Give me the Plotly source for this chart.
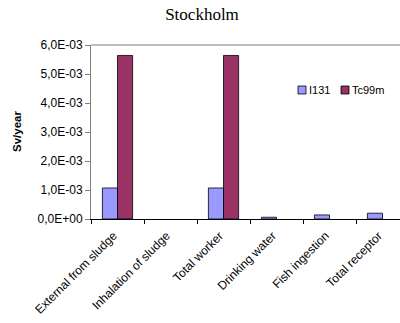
import plotly.graph_objects as go

# Dose per pathway (Sv/year)
categories = ["External from sludge", "Inhalation of sludge", "Total worker",
              "Drinking water", "Fish ingestion", "Total receptor"]
i131 = [1.07e-3, 0.0, 1.07e-3, 0.06e-3, 0.14e-3, 0.20e-3]
tc99m = [5.64e-3, 0.0, 5.64e-3, 0.0, 0.0, 0.0]

series_names = ["I131", "Tc99m"]
series_colors = ["#9999FF", "#993366"]

y_tick_vals = [0, 1e-3, 2e-3, 3e-3, 4e-3, 5e-3, 6e-3]
y_tick_text = ["0,0E+00", "1,0E-03", "2,0E-03", "3,0E-03", "4,0E-03", "5,0E-03", "6,0E-03"]

# Plot-area geometry in pixels (used to place the hand-drawn legend)
W, H = 400, 323
ML, MR, MT, MB = 91, 0, 45, 104
PW, PH = W - ML - MR, H - MT - MB


def px_x(p):
    return (p - ML) / PW


def px_y(p):
    return (H - MB - p) / PH


fig = go.Figure()
for name, vals, col in zip(series_names, [i131, tc99m], series_colors):
    fig.add_trace(go.Bar(
        name=name, x=categories, y=vals,
        marker=dict(color=col,
                    line=dict(color="#000000", width=[0.8 if v > 0 else 0 for v in vals])),
    ))

fig.update_layout(
    width=W, height=H,
    margin=dict(l=ML, r=MR, t=MT, b=MB),
    paper_bgcolor="white", plot_bgcolor="white",
    barmode="group", bargap=0.43, bargroupgap=0,
    font=dict(family="Liberation Sans, Arial", size=12, color="#000000"),
    title=dict(text="Stockholm", x=0.505, xanchor="center", y=0.955, yanchor="middle",
               font=dict(family="Liberation Serif, Times New Roman", size=17, color="#000000")),
    showlegend=False,
)

fig.update_xaxes(
    range=[-0.5, 5.33],
    tickangle=-45, tickson="boundaries",
    ticks="outside", ticklen=4, tickcolor="#000000",
    ticklabelstandoff=4, ticklabelshift=-4,
    showline=True, linecolor="#000000", linewidth=1,
    showgrid=False, tickfont=dict(size=12),
)
fig.update_yaxes(
    range=[0, 6e-3],
    tickvals=y_tick_vals, ticktext=y_tick_text,
    ticks="outside", ticklen=5, tickcolor="#808080",
    showline=True, linecolor="#808080", linewidth=1,
    showgrid=False, zeroline=False, tickfont=dict(size=12),
)

# Axis title
fig.add_annotation(text="<b>Sv/year</b>", xref="paper", yref="paper",
                   x=px_x(17), y=px_y(132), textangle=-90, showarrow=False,
                   xanchor="center", yanchor="middle", font=dict(size=11.5))

# Top border of the plot area
fig.add_shape(type="line", xref="paper", yref="paper", x0=0, x1=1, y0=1, y1=1,
              line=dict(color="#808080", width=1))

# Legend: small squares with labels
legend_x = [298, 341]
for lx, name, col in zip(legend_x, series_names, series_colors):
    fig.add_shape(type="rect", xref="paper", yref="paper",
                  x0=px_x(lx), x1=px_x(lx + 8), y0=px_y(94), y1=px_y(86),
                  fillcolor=col, line=dict(color="#000000", width=0.8))
    fig.add_annotation(text=name, xref="paper", yref="paper",
                       x=px_x(lx + 9), y=px_y(90), showarrow=False,
                       xanchor="left", yanchor="middle", font=dict(size=11))

fig.write_html("out.html")
